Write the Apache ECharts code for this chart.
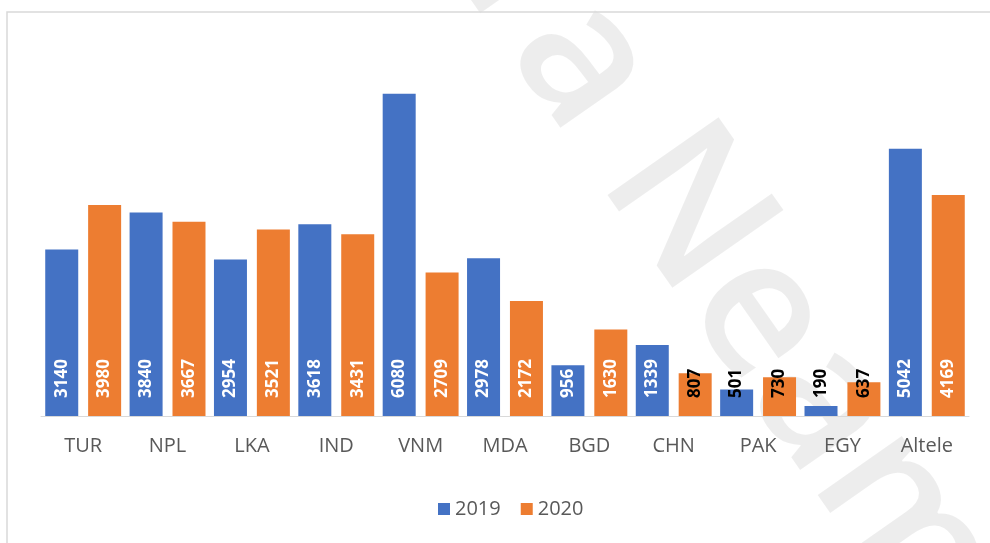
<!DOCTYPE html>
<html>
<head>
<meta charset="utf-8">
<script src="https://cdn.jsdelivr.net/npm/echarts@6/dist/echarts.min.js"></script>
<style>
  html, body { margin: 0; padding: 0; background: #fff; }
  #chart { width: 990px; height: 543px; }
</style>
</head>
<body>
<div id="chart"></div>
<script>
var categories = ['TUR', 'NPL', 'LKA', 'IND', 'VNM', 'MDA', 'BGD', 'CHN', 'PAK', 'EGY', 'Altele'];
var values2019 = [3140, 3840, 2954, 3618, 6080, 2978, 956, 1339, 501, 190, 5042];
var values2020 = [3980, 3667, 3521, 3431, 2709, 2172, 1630, 807, 730, 637, 4169];
// labels on short bars are dark in the original
var darkLabels2019 = ['PAK', 'EGY'];
var darkLabels2020 = ['CHN', 'PAK', 'EGY'];

function buildData(values, darkList) {
  return values.map(function (v, i) {
    var item = { value: v };
    if (darkList.indexOf(categories[i]) >= 0) {
      item.label = { color: '#000' };
    }
    return item;
  });
}

var myChart = echarts.init(document.getElementById('chart'));

var barLabel = {
  show: true,
  position: 'insideBottom',
  distance: 18,
  rotate: 90,
  align: 'left',
  verticalAlign: 'middle',
  color: '#fff',
  fontFamily: 'Open Sans',
  fontWeight: 'bold',
  fontSize: 17
};

var option = {
  animation: false,
  backgroundColor: '#fff',
  color: ['#4472C4', '#ED7D31'],
  graphic: [
    {
      // faint watermark behind the chart
      type: 'text',
      x: 460,
      y: -110,
      rotation: -55 * Math.PI / 180,
      z: -10,
      silent: true,
      style: {
        text: 'tra Neamț',
        fontSize: 190,
        fontFamily: 'Open Sans',
        fontWeight: 600,
        fill: 'rgba(0,0,0,0.07)',
        textAlign: 'left',
        textVerticalAlign: 'middle'
      }
    },
    {
      type: 'rect',
      silent: true,
      shape: { x: 7, y: 12, width: 1000, height: 600 },
      style: { fill: 'none', stroke: '#d9d9d9', lineWidth: 1.5 }
    }
  ],
  legend: {
    data: ['2019', '2020'],
    left: 433,
    top: 494,
    itemWidth: 12,
    itemHeight: 12,
    itemGap: 20,
    icon: 'rect',
    textStyle: {
      color: '#595959',
      fontFamily: 'Open Sans',
      fontSize: 20
    }
  },
  grid: {
    left: 41,
    right: 21,
    top: 45,
    bottom: 127,
    containLabel: false
  },
  xAxis: {
    type: 'category',
    data: categories,
    axisTick: { show: false },
    axisLine: { show: true, lineStyle: { color: '#d9d9d9', width: 1 } },
    axisLabel: {
      color: '#595959',
      fontFamily: 'Open Sans',
      fontSize: 20,
      margin: 20,
      interval: 0
    }
  },
  yAxis: {
    type: 'value',
    min: 0,
    max: 7000,
    show: false,
    splitLine: { show: false }
  },
  series: [
    {
      name: '2019',
      type: 'bar',
      barWidth: 33,
      barGap: '30%',
      data: buildData(values2019, darkLabels2019),
      label: barLabel
    },
    {
      name: '2020',
      type: 'bar',
      barWidth: 33,
      barGap: '30%',
      data: buildData(values2020, darkLabels2020),
      label: barLabel
    }
  ]
};

myChart.setOption(option);
</script>
</body>
</html>
